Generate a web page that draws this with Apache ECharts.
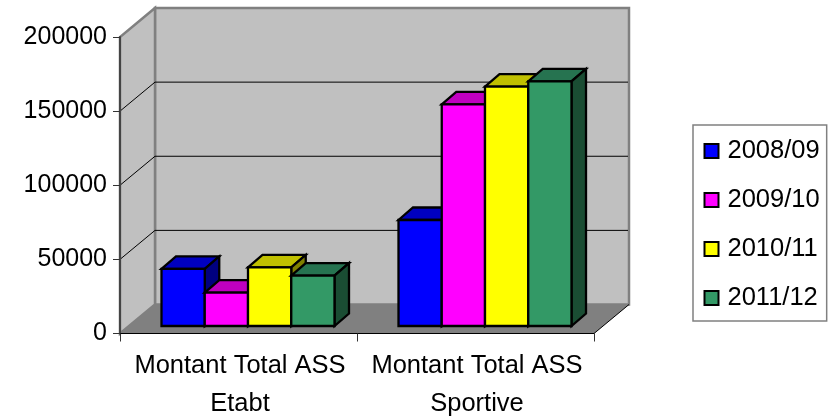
<!DOCTYPE html>
<html><head><meta charset="utf-8">
<script src="https://cdn.jsdelivr.net/npm/echarts@6/dist/echarts.min.js"></script>
<style>html,body{margin:0;padding:0;background:#fff}#c{width:828px;height:417px}</style>
</head><body><div id="c"></div>
<script>
var categories = ['Montant Total ASS\nEtabt', 'Montant Total ASS\nSportive'];
var seasons = ['2008/09', '2009/10', '2010/11', '2011/12'];
var values0809 = [38500, 71500];
var values0910 = [22500, 149500];
var values1011 = [39500, 161500];
var values1112 = [34000, 165000];
var yTicks = [0, 50000, 100000, 150000, 200000];
var allValues = [values0809, values0910, values1011, values1112];
var frontColors = ['#0000ff', '#ff00ff', '#ffff00', '#339966'];
var topColors = ['#0000c0', '#c000c0', '#c0c000', '#267350'];
var sideColors = ['#000080', '#800080', '#808000', '#1a4d33'];

var WALL = [35, -29], PLANE = [9.5, -7.5], DEPTH = [14.5, -12.5], BAR_RATIO = 0.1825;
function shift(p, d) { return [p[0] + d[0], p[1] + d[1]]; }
function poly(pts, fill, stroke, lw) {
  return { type: 'polygon', shape: { points: pts },
    style: { fill: fill, stroke: stroke, lineWidth: lw || 0, lineJoin: 'miter' } };
}
function renderWalls(params, api) {
  var ymax = yTicks[yTicks.length - 1];
  var halfCat = api.size([1, 0])[0] / 2;
  var first = api.coord([0, 0]), last = api.coord([categories.length - 1, 0]);
  var a = [first[0] - halfCat, first[1]], b = [last[0] + halfCat, last[1]];
  var c = [a[0], api.coord([0, ymax])[1]];
  var a2 = shift(a, WALL), b2 = shift(b, WALL), c2 = shift(c, WALL);
  var d2 = [b2[0], c2[1]];
  var kids = [
    poly([a2, b2, d2, c2], '#c0c0c0', '#808080', 2.5),
    poly([a, a2, c2, c], '#c0c0c0', '#808080', 2.5),
    poly([a, b, b2, a2], '#808080', null, 0)
  ];
  kids.push({ type: 'polyline', shape: { points: [a, b, b2] }, style: { fill: null, stroke: '#000', lineWidth: 1 } });
  yTicks.slice(1, -1).forEach(function (t) {
    var p = [a[0], api.coord([0, t])[1]], q = shift(p, WALL), r = [b2[0] - 1, q[1]];
    kids.push({ type: 'polyline', shape: { points: [p, q, r] }, style: { fill: null, stroke: '#000', lineWidth: 1 } });
  });
  return { type: 'group', children: kids };
}
function makeBar(si) {
  return function (params, api) {
    var cat = api.value(0), val = api.value(1);
    var w = api.size([1, 0])[0] * BAR_RATIO;
    var base = shift(api.coord([cat, 0]), PLANE), top = shift(api.coord([cat, val]), PLANE);
    var x0 = base[0] + (si - 2) * w, x1 = x0 + w;
    var bl = [x0, base[1]], br = [x1, base[1]], tl = [x0, top[1]], tr = [x1, top[1]];
    return { type: 'group', children: [
      poly([tl, tr, shift(tr, DEPTH), shift(tl, DEPTH)], topColors[si], '#000', 2.3),
      poly([br, tr, shift(tr, DEPTH), shift(br, DEPTH)], sideColors[si], '#000', 2.3),
      poly([bl, br, tr, tl], frontColors[si], '#000', 2.3)
    ] };
  };
}
var series = [{
  type: 'custom', silent: true, z: 2, clip: false, renderItem: renderWalls,
  data: [[0, 0]], legendHoverLink: false, animation: false
}];
seasons.forEach(function (name, si) {
  series.push({
    type: 'custom', name: name, z: 3 + si, clip: false, animation: false,
    renderItem: makeBar(si),
    itemStyle: { color: frontColors[si], borderColor: '#000', borderWidth: 2 },
    encode: { x: 0, y: 1 },
    data: allValues[si].map(function (v, i) { return [i, v]; })
  });
});
var chart = echarts.init(document.getElementById('c'), null, { renderer: 'canvas' });
var FONT = '"Liberation Sans", Arial, sans-serif';
chart.setOption({
  animation: false,
  backgroundColor: '#fff',
  grid: { left: 120, right: 234, top: 37, height: 296.5, containLabel: false, outerBoundsMode: 'none' },
  xAxis: {
    type: 'category', data: categories, z: 8,
    axisLine: { lineStyle: { color: '#000', width: 1 } },
    axisTick: { show: true, length: 8, lineStyle: { color: '#333', width: 1 } },
    axisLabel: { color: '#000', fontFamily: FONT, fontSize: 25.5, lineHeight: 38, margin: 13, interval: 0, padding: [0, 0, 0, 3] },
    splitLine: { show: false }
  },
  yAxis: {
    type: 'value', min: 0, max: 200000, interval: 50000, z: 8,
    axisLine: { show: true, lineStyle: { color: '#444', width: 2 } },
    axisTick: { show: true, length: 7, lineStyle: { color: '#333', width: 1 } },
    axisLabel: { color: '#000', fontFamily: FONT, fontSize: 25, margin: 13, formatter: function (v) { return String(v); } },
    splitLine: { show: false }
  },
  legend: {
    orient: 'vertical', left: 693, top: 125, data: seasons,
    itemWidth: 14, itemHeight: 14, itemGap: 18, padding: [10.5, 7, 7.5, 10.5],
    borderColor: '#808080', borderWidth: 1.5, backgroundColor: '#fff',
    icon: 'rect', selectedMode: false,
    itemStyle: { borderColor: '#000', borderWidth: 2 },
    textStyle: { color: '#000', fontFamily: FONT, fontSize: 25.5, lineHeight: 25, padding: [0, 0, 6, 4] }
  },
  series: series
});
</script>
</body></html>
